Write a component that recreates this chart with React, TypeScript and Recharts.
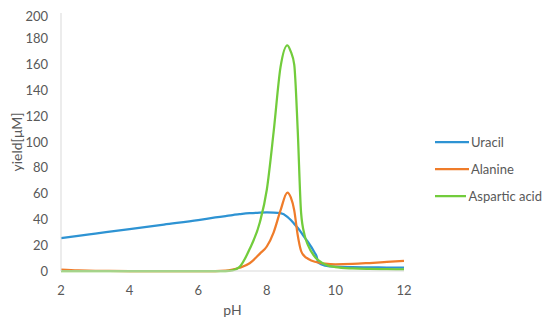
import React from "react";
import { LineChart, Line, XAxis, YAxis, Legend } from "recharts";

const phValues = [
  2, 2.5, 3, 4, 5, 6, 6.5, 6.8, 7, 7.2, 7.5, 7.8, 8, 8.2, 8.4, 8.6, 8.7, 8.8,
  8.9, 9, 9.1, 9.2, 9.4, 9.45, 9.5, 9.7, 10, 10.5, 11, 11.5, 12,
];
const uracil = [
  25.4, 27.3, 29, 32.4, 36, 39.5, 41.5, 42.6, 43.4, 44, 44.8, 45.3, 45.4,
  45.3, 44.8, 42, 39.5, 36.5, 33.5, 30, 26, 22.5, 14, 11.5, 6.5, 4.2, 3.3, 3,
  2.8, 2.7, 2.6,
];
const alanine = [
  1, 0.4, 0.1, 0, 0, 0, 0, 0.2, 1, 2.5, 6, 13.5, 19, 30, 47, 60.8, 57, 47, 28,
  15.5, 11.5, 9.5, 7.2, 6.9, 6.6, 5.7, 5.2, 5.5, 6.2, 7, 7.8,
];
const asparticAcid = [
  0, 0, 0, 0, 0, 0, 0, 0, 0.5, 3, 17, 38, 63, 108, 158, 175, 170, 160, 110,
  45, 28, 20, 11, 9.5, 8.5, 5, 3, 2, 1.6, 1.4, 1.3,
];
const legendOrder = ["Uracil", "Alanine", "Aspartic acid"];
const xTicks = [2, 4, 6, 8, 10, 12];
const yTicks = [0, 20, 40, 60, 80, 100, 120, 140, 160, 180, 200];

const data = phValues.map((ph, i) => ({
  ph,
  uracil: uracil[i],
  alanine: alanine[i],
  aspartic: asparticAcid[i],
}));

const font = "Lato, 'Open Sans', sans-serif";
const textColor = "#595959";

const renderLegend = (props: any) => {
  const payload = [...(props.payload || [])].sort(
    (a: any, b: any) => legendOrder.indexOf(a.value) - legendOrder.indexOf(b.value)
  );
  return (
    <div style={{ fontFamily: font, fontSize: 13, color: textColor, whiteSpace: "nowrap" }}>
      {payload.map((entry: any) => (
        <div
          key={entry.value}
          style={{ display: "flex", alignItems: "center", height: 27 }}
        >
          <svg width={34} height={4}>
            <line x1={0} y1={2} x2={34} y2={2} stroke={entry.color} strokeWidth={2.25} />
          </svg>
          <span style={{ marginLeft: 2 }}>{entry.value}</span>
        </div>
      ))}
    </div>
  );
};

const App = () => {
  return (
    <LineChart
      width={534}
      height={310}
      data={data}
      margin={{ top: 5, right: 138, left: 0, bottom: 0 }}
    >
      <XAxis
        dataKey="ph"
        type="number"
        domain={[2, 12]}
        ticks={xTicks}
        tickLine={false}
        tickMargin={9}
        height={47}
        stroke="#d9d9d9"
        tick={{ fill: textColor, fontSize: 13, fontFamily: font }}
        label={{
          value: "pH",
          position: "insideBottom",
          offset: 3,
          fill: textColor,
          fontSize: 14,
          fontFamily: font,
        }}
      />
      <YAxis
        domain={[0, 200]}
        ticks={yTicks}
        tickLine={false}
        tickMargin={7}
        width={53}
        stroke="#d9d9d9"
        tick={{ fill: textColor, fontSize: 13, fontFamily: font }}
        label={{
          value: "yield[μM]",
          angle: -90,
          position: "insideLeft",
          offset: 9,
          fill: textColor,
          fontSize: 14,
          fontFamily: font,
          style: { textAnchor: "middle" },
        }}
      />
      <Legend
        layout="vertical"
        align="center"
        verticalAlign="middle"
        content={renderLegend}
        wrapperStyle={{ left: 427, top: 120, width: 107 }}
      />
      <Line
        type="monotone"
        dataKey="uracil"
        name="Uracil"
        stroke="#2E93D3"
        strokeWidth={2.25}
        dot={false}
        isAnimationActive={false}
      />
      <Line
        type="monotone"
        dataKey="alanine"
        name="Alanine"
        stroke="#EF7C2A"
        strokeWidth={2.25}
        dot={false}
        isAnimationActive={false}
      />
      <Line
        type="monotone"
        dataKey="aspartic"
        name="Aspartic acid"
        stroke="#72CC3C"
        strokeWidth={2.25}
        dot={false}
        isAnimationActive={false}
      />
    </LineChart>
  );
};

export default App;
